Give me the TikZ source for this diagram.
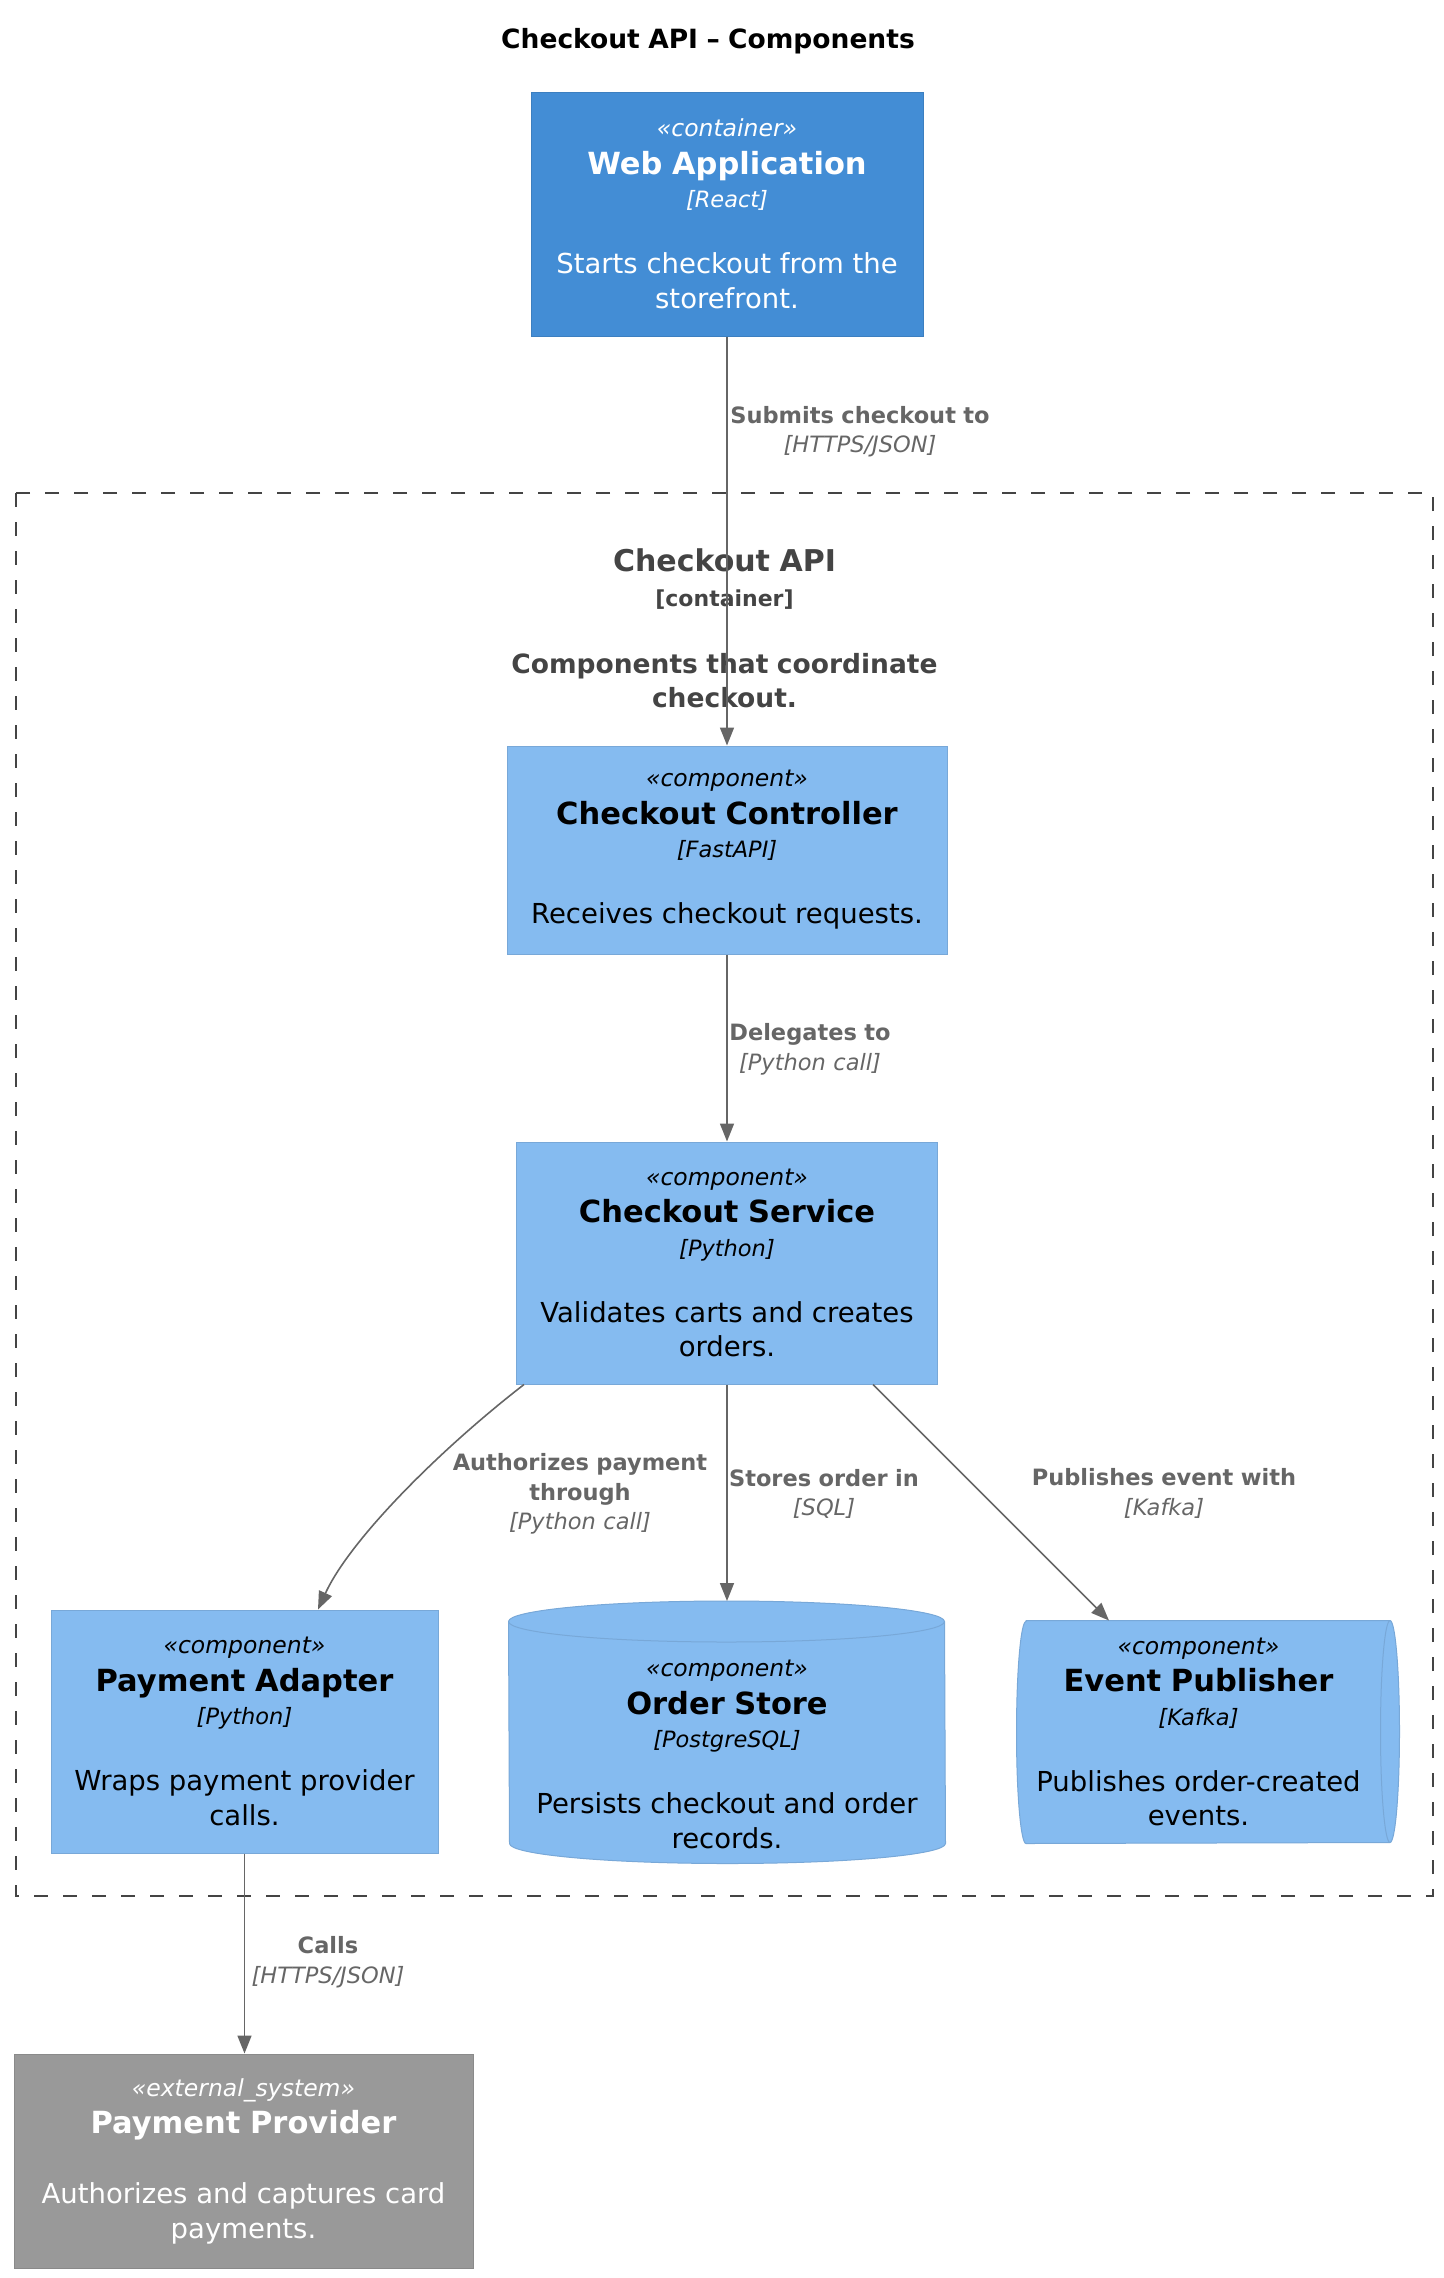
\documentclass[tikz,border=0pt]{standalone}
\usepackage{fontspec}
\setmainfont{DejaVu Sans}
\usetikzlibrary{arrows.meta, backgrounds}
\setlength{\parindent}{0pt}

\definecolor{containerblue}{HTML}{438DD5}
\definecolor{containerline}{HTML}{3C7FC0}
\definecolor{compblue}{HTML}{85BBF0}
\definecolor{compline}{HTML}{78A8D8}
\definecolor{extgray}{HTML}{999999}
\definecolor{extline}{HTML}{8A8A8A}
\definecolor{relgray}{HTML}{666666}
\definecolor{boundgray}{HTML}{444444}

% font size + word space of the current size
\newcommand{\setsize}[2]{\fontsize{#1}{#2}\selectfont\spaceskip=.318em\relax}
\newcommand{\stereo}[1]{{\setsize{23.5}{24}\itshape «#1»\par}}
\newcommand{\elname}[1]{{\setsize{30.5}{37.5}\bfseries #1\par}}
\newcommand{\eltech}[1]{{\setsize{22.5}{33.5}\itshape [#1]\par}}
\newcommand{\eldesc}[2][31.5pt]{{\setsize{27.5}{34.5}\vspace*{#1}#2\par}}
\newcommand{\reltext}[2]{{\bfseries #1\par}{\itshape [#2]\par}}

\begin{document}
\begin{tikzpicture}[x=1pt,y=1pt,>={Triangle[length=18pt,width=14pt]},
    elem/.style={rectangle,inner sep=0pt,align=center,line width=1pt},
    container/.style={elem,fill=containerblue,draw=containerline,text=white},
    component/.style={elem,fill=compblue,draw=compline},
    extsystem/.style={elem,fill=extgray,draw=extline,text=white},
    shapefill/.style={fill=compblue,draw=compline,line width=1pt},
    boundary/.style={draw=boundgray,line width=1.5pt,dash pattern=on 14pt off 15pt},
    rel/.style={->,draw=relgray,line width=1.6pt},
    rellabel/.style={text=relgray,text width=320pt,align=center,inner sep=0pt,
      font={\setsize{22.5}{29.5}}}]
  \useasboundingbox (0,0) rectangle (1443,-2278);

  \node[font={\setsize{26.5}{30}\bfseries}] (title) at (708,-41) {Checkout API – Components};

  \node[container,minimum width=392pt,minimum height=244pt,text width=380pt] (web) at (727,-214)
    {\stereo{container}\elname{Web Application}\eltech{React}\eldesc{Starts checkout from the\\storefront.}};

  \node[align=center,text width=600pt,text=boundgray,font=\bfseries,inner sep=0pt] (apilabel) at (724.5,-628)
    {{\setsize{30}{33}Checkout API\par}{\setsize{22}{35}[container]\par}%
     {\setsize{26.5}{34}\vspace*{33pt}Components that coordinate\\checkout.\par}};

  \node[component,minimum width=440pt,minimum height=208pt,text width=420pt] (ctrl) at (727,-850)
    {\stereo{component}\elname{Checkout Controller}\eltech{FastAPI}\eldesc{Receives checkout requests.}};
  \node[component,minimum width=421pt,minimum height=242pt,text width=405pt] (svc) at (727,-1263)
    {\stereo{component}\elname{Checkout Service}\eltech{Python}\eldesc{Validates carts and creates\\orders.}};
  \node[component,minimum width=387pt,minimum height=243pt,text width=375pt] (pay) at (244.5,-1731.5)
    {\stereo{component}\elname{Payment Adapter}\eltech{Python}\eldesc{Wraps payment provider\\calls.}};
  \node[elem,minimum width=436pt,minimum height=241pt,text width=420pt] (store) at (727,-1742.5)
    {\par\vspace*{16pt}\stereo{component}\elname{Order Store}\eltech{PostgreSQL}\eldesc{Persists checkout and order\\records.}};
  \node[elem,minimum width=363pt,minimum height=222pt,text width=355pt] (pub) at (1198.5,-1732)
    {\stereo{component}\elname{Event Publisher}\eltech{Kafka}\eldesc{Publishes order-created\\events.}};
  \node[extsystem,minimum width=459pt,minimum height=214pt,text width=445pt] (prov) at (243.5,-2161)
    {\stereo{external\_system}\elname{Payment Provider}\eldesc[35.5pt]{Authorizes and captures card\\payments.}};

  \begin{scope}[on background layer]
    \draw[boundary] (16,-493) rectangle (1433,-1896);
    % database cylinder
    \path[shapefill] (store.north west) arc[start angle=180,end angle=0,x radius=218pt,y radius=20.5pt]
      -- ([yshift=20pt]store.south east) arc[start angle=0,end angle=-180,x radius=218pt,y radius=20pt] -- cycle;
    \draw[compline,line width=1pt] (store.north west) arc[start angle=180,end angle=360,x radius=218pt,y radius=20.5pt];
    % queue
    \path[shapefill] ([xshift=9.5pt]pub.north west) -- ([xshift=9.5pt]pub.north east)
      arc[start angle=90,end angle=-90,x radius=9.5pt,y radius=111pt]
      -- ([xshift=9.5pt]pub.south west) arc[start angle=270,end angle=90,x radius=9.5pt,y radius=111pt] -- cycle;
    \draw[compline,line width=1pt] ([xshift=9.5pt]pub.north east) arc[start angle=90,end angle=270,x radius=9.5pt,y radius=111pt];
  \end{scope}

  \draw[rel] (web) -- (ctrl);
  \draw[rel] (ctrl) -- (svc);
  \draw[rel] ([xshift=8pt]svc.south west) .. controls +(-84,-65) and +(32,70) .. ([xshift=73.5pt]pay.north);
  \draw[rel] (svc.south) -- ([yshift=20.5pt]store.north);
  \draw[rel] ([xshift=-65pt]svc.south east) -- ([xshift=-89.5pt]pub.north);
  \draw[rel] (pay.south) -- (pay.south |- prov.north);

  \node[rellabel] (submitlbl) at (860,-431.5) {\reltext{Submits checkout to}{HTTPS/JSON}};
  \node[rellabel] (delegatelbl) at (810,-1049.5) {\reltext{Delegates to}{Python call}};
  \node[rellabel] (authlbl) at (580,-1494) {\reltext{Authorizes payment\\through}{Python call}};
  \node[rellabel] (storelbl) at (824,-1494) {\reltext{Stores order in}{SQL}};
  \node[rellabel] (publbl) at (1164,-1493.5) {\reltext{Publishes event with}{Kafka}};
  \node[rellabel] (callslbl) at (328,-1962) {\reltext{Calls}{HTTPS/JSON}};
\end{tikzpicture}
\end{document}
